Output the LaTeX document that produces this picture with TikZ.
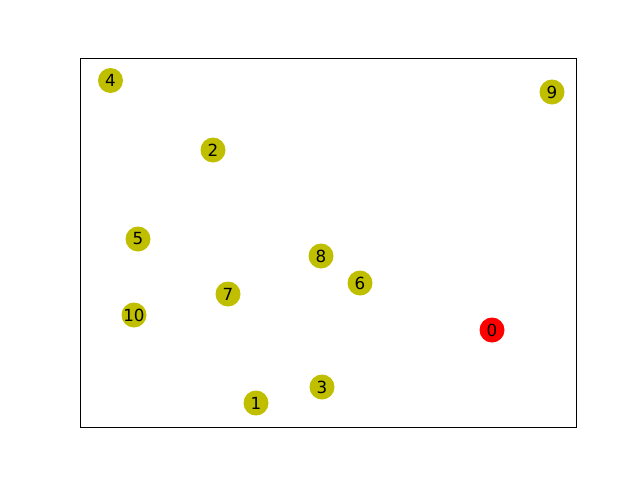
\documentclass[tikz,border=0pt]{standalone}
\usepackage{fontspec}
\setmainfont{DejaVu Sans}
\usetikzlibrary{positioning}
\definecolor{olive}{rgb}{0.75,0.75,0}

\begin{document}
\begin{tikzpicture}[x=1pt, y=-1pt, every node/.style={font=\fontsize{16.7}{20}\selectfont}]
        \useasboundingbox (0,0) rectangle (640,480);
        % Axes frame
        \draw[line width=0.8pt] (80,58) rectangle (576,427);
        
        % Nodes
        \tikzset{vtx/.style={circle, fill=olive, minimum size=25pt, inner sep=0pt, text=black}}
        \node[vtx, fill=red] (n0) at (492,330) {0};
        \node[vtx] (n1) at (256,403) {1};
        \node[vtx] (n2) at (213,150) {2};
        \node[vtx] (n3) at (322,387) {3};
        \node[vtx] (n4) at (110.5,80.5) {4};
        \node[vtx] (n5) at (138,239) {5};
        \node[vtx] (n6) at (360,283) {6};
        \node[vtx] (n7) at (228,294) {7};
        \node[vtx] (n8) at (321,256) {8};
        \node[vtx] (n9) at (552,92) {9};
        \node[vtx] (n10) at (134,315) {10};
    \end{tikzpicture}
\end{document}
